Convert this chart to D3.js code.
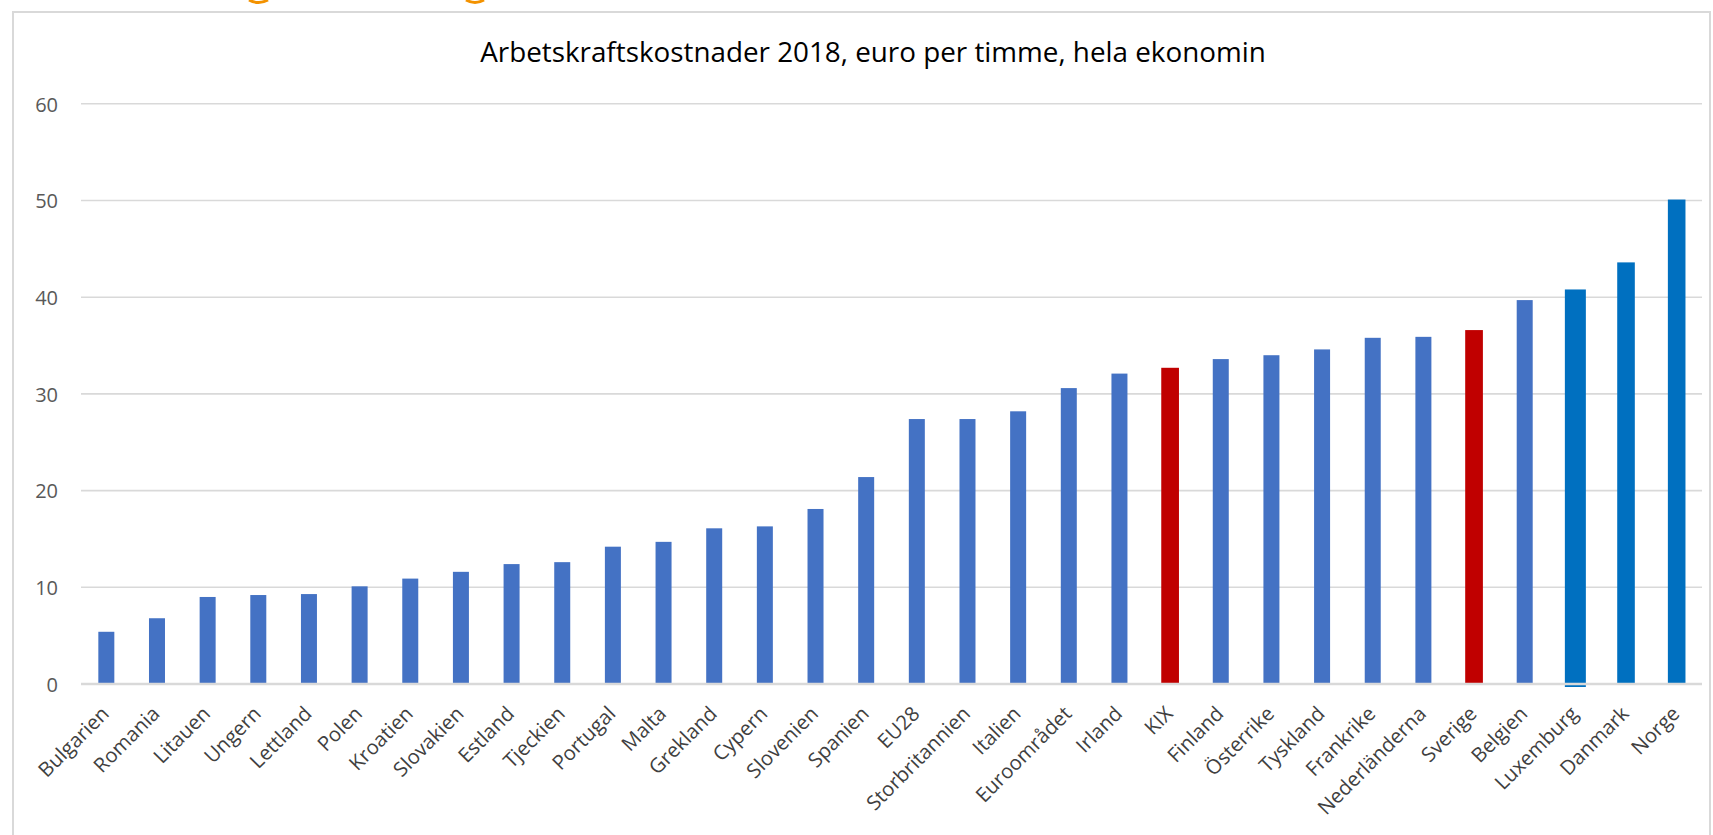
<!DOCTYPE html>
<html>
<head>
<meta charset="utf-8">
<script src="https://cdn.jsdelivr.net/npm/d3@7"></script>
<style>
  html, body { margin: 0; padding: 0; background: #ffffff; overflow: hidden; }
  svg { display: block; }
</style>
</head>
<body>
<svg id="chart" width="1713" height="835"></svg>
<script>
// ---------- data ----------
const title = "Arbetskraftskostnader 2018, euro per timme, hela ekonomin";
const categories = ["Bulgarien","Romania","Litauen","Ungern","Lettland","Polen","Kroatien","Slovakien","Estland","Tjeckien","Portugal","Malta","Grekland","Cypern","Slovenien","Spanien","EU28","Storbritannien","Italien","Euroområdet","Irland","KIX","Finland","Österrike","Tyskland","Frankrike","Nederländerna","Sverige","Belgien","Luxemburg","Danmark","Norge"];
const values = [5.4,6.8,9.0,9.2,9.3,10.1,10.9,11.6,12.4,12.6,14.2,14.7,16.1,16.3,18.1,21.4,27.4,27.4,28.2,30.6,32.1,32.7,33.6,34.0,34.6,35.8,35.9,36.6,39.7,40.8,43.6,50.1];
const yTicks = [0,10,20,30,40,50,60];
const redCategories = ["KIX","Sverige"];
const darkBlueCategories = ["Luxemburg","Danmark","Norge"];

// ---------- layout ----------
const svg = d3.select("#chart");
const plot = { left: 81, right: 1702, top: 103.8, bottom: 684 };

const x = d3.scaleBand().domain(categories).range([plot.left, plot.right]).padding(0);
const y = d3.scaleLinear().domain([0, 60]).range([plot.bottom, plot.top]);

const colorOf = c => redCategories.includes(c) ? "#C00000" : darkBlueCategories.includes(c) ? "#0070C0" : "#4472C4";
const widthOf = c => c === "Luxemburg" ? 21 : redCategories.includes(c) ? 17.7 : darkBlueCategories.includes(c) ? 17.6 : 16;

// chart border
svg.append("rect").attr("x", 13).attr("y", 12).attr("width", 1697).attr("height", 900)
  .attr("fill", "none").attr("stroke", "#d9d9d9").attr("stroke-width", 2);

// orange remnants at the very top (cut glyphs of text above)
svg.append("path").attr("d", "M249,0 Q258.5,5 268,0").attr("fill", "none").attr("stroke", "#F39200").attr("stroke-width", 3);
svg.append("path").attr("d", "M466,0 Q475,5 484,0").attr("fill", "none").attr("stroke", "#F39200").attr("stroke-width", 3);

// title
const t = svg.append("text").attr("x", 873).attr("y", 62).attr("text-anchor", "middle")
  .attr("font-family", "'Open Sans', 'Noto Sans', sans-serif").attr("fill", "#000")
  .attr("font-size", 26).text(title);
{
  const w = t.node().getComputedTextLength();
  t.attr("font-size", 26 * 786 / w);
}

// gridlines
svg.append("g").selectAll("line").data(yTicks.filter(d => d !== 0)).join("line")
  .attr("x1", plot.left).attr("x2", plot.right)
  .attr("y1", d => y(d)).attr("y2", d => y(d))
  .attr("stroke", "#d9d9d9").attr("stroke-width", 1.6);

// y axis labels
const yAxis = d3.axisLeft(y).tickValues(yTicks).tickSize(0).tickPadding(0).tickFormat(d3.format("d"));
const yg = svg.append("g").attr("transform", `translate(${58},0)`).call(yAxis);
yg.select(".domain").remove();
yg.selectAll("text").attr("font-family", "'Open Sans', 'Noto Sans', sans-serif")
  .attr("font-size", 20).attr("fill", "#595959").attr("dy", "0.36em");

// bars
svg.append("g").selectAll("rect").data(categories).join("rect")
  .attr("x", (c) => x(c) + x.bandwidth() / 2 - widthOf(c) / 2)
  .attr("width", c => widthOf(c))
  .attr("y", (c, i) => y(values[i]))
  .attr("height", (c, i) => y(0) - y(values[i]) + (c === "Luxemburg" ? 3 : 0))
  .attr("fill", c => colorOf(c));

// zero axis line
svg.append("line").attr("x1", plot.left).attr("x2", plot.right)
  .attr("y1", y(0)).attr("y2", y(0)).attr("stroke", "#d9d9d9").attr("stroke-width", 2.5);

// x labels
const xAxis = d3.axisBottom(x).tickSize(0).tickPadding(0);
const xg = svg.append("g").attr("transform", `translate(0,${y(0)})`).call(xAxis);
xg.select(".domain").remove();
const xl = xg.selectAll("text")
  .attr("font-family", "'Open Sans', 'Noto Sans', sans-serif")
  .attr("fill", "#404040")
  .attr("font-size", 20)
  .attr("text-anchor", "end")
  .attr("dy", 0)
  .attr("y", 0)
  .attr("transform", "translate(4,31) rotate(-45)");
{
  const ref = xl.filter(d => d === "Bulgarien").node();
  const w = ref.getComputedTextLength();
  xl.attr("font-size", 20 * 90 / w);
}
</script>
</body>
</html>
